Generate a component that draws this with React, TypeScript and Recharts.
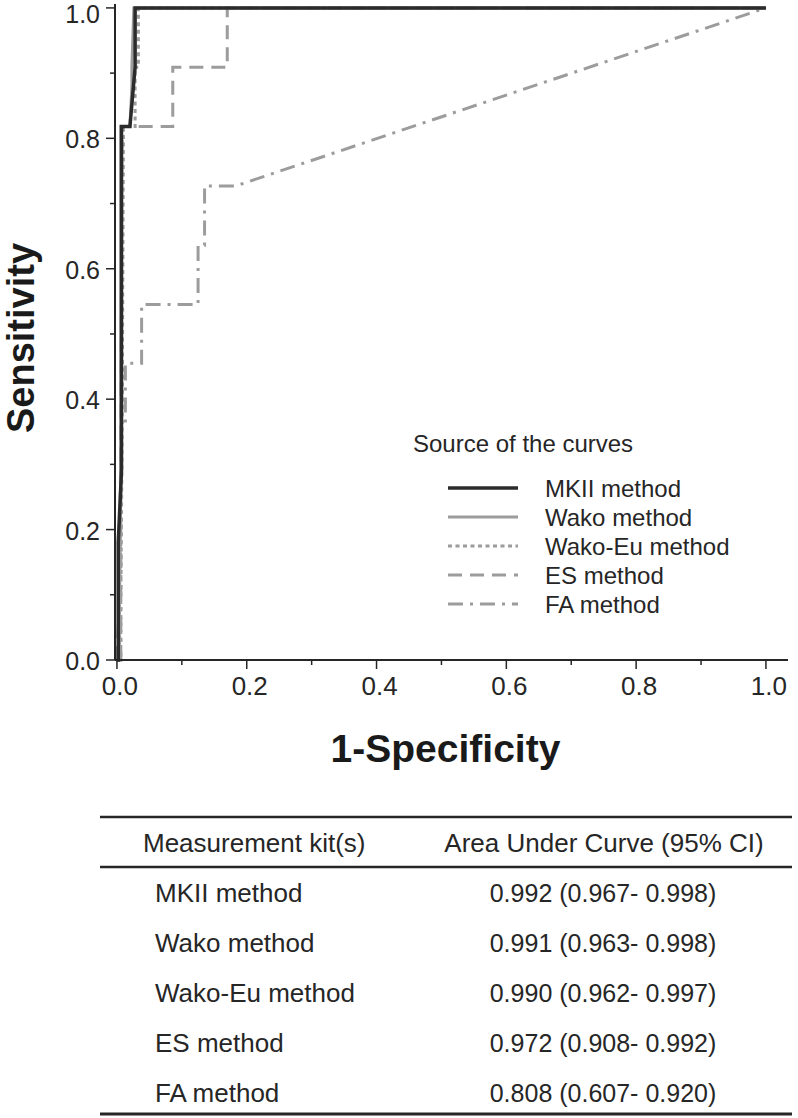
import React from "react";
import { LineChart, Line, XAxis, YAxis, Legend } from "recharts";

type Pt = { x: number; y: number };

// ROC points (x = 1-specificity, y = sensitivity)
const mkiiPoints: Pt[] = [
  { x: 0, y: 0 },
  { x: 0.002, y: 0 },
  { x: 0.002, y: 0.18 },
  { x: 0.007, y: 0.29 },
  { x: 0.007, y: 0.818 },
  { x: 0.02, y: 0.818 },
  { x: 0.028, y: 0.909 },
  { x: 0.028, y: 1 },
  { x: 1, y: 1 },
];

const wakoPoints: Pt[] = [
  { x: 0, y: 0 },
  { x: 0.004, y: 0 },
  { x: 0.004, y: 0.1 },
  { x: 0.006, y: 0.27 },
  { x: 0.006, y: 0.818 },
  { x: 0.02, y: 0.818 },
  { x: 0.023, y: 0.88 },
  { x: 0.023, y: 0.909 },
  { x: 0.026, y: 1 },
  { x: 1, y: 1 },
];

const wakoEuPoints: Pt[] = [
  { x: 0, y: 0 },
  { x: 0.006, y: 0 },
  { x: 0.006, y: 0.09 },
  { x: 0.008, y: 0.35 },
  { x: 0.01, y: 0.818 },
  { x: 0.028, y: 0.818 },
  { x: 0.028, y: 0.909 },
  { x: 0.033, y: 0.909 },
  { x: 0.033, y: 1 },
  { x: 1, y: 1 },
];

const esPoints: Pt[] = [
  { x: 0, y: 0 },
  { x: 0.004, y: 0.1 },
  { x: 0.006, y: 0.36 },
  { x: 0.008, y: 0.818 },
  { x: 0.086, y: 0.818 },
  { x: 0.086, y: 0.909 },
  { x: 0.17, y: 0.909 },
  { x: 0.17, y: 1 },
  { x: 1, y: 1 },
];

const faPoints: Pt[] = [
  { x: 0, y: 0 },
  { x: 0.006, y: 0 },
  { x: 0.006, y: 0.364 },
  { x: 0.013, y: 0.364 },
  { x: 0.013, y: 0.455 },
  { x: 0.038, y: 0.455 },
  { x: 0.038, y: 0.545 },
  { x: 0.125, y: 0.545 },
  { x: 0.125, y: 0.636 },
  { x: 0.135, y: 0.636 },
  { x: 0.135, y: 0.727 },
  { x: 0.183, y: 0.727 },
  { x: 1, y: 1 },
];

const axisTicks = [0, 0.1, 0.2, 0.3, 0.4, 0.5, 0.6, 0.7, 0.8, 0.9, 1.0];

const kits = ["MKII method", "Wako method", "Wako-Eu method", "ES method", "FA method"];
const aucText = [
  "0.992 (0.967- 0.998)",
  "0.991 (0.963- 0.998)",
  "0.990 (0.962- 0.997)",
  "0.972 (0.908- 0.992)",
  "0.808 (0.607- 0.920)",
];

const GRAY = "#9c9c9c";
const INK = "#262626";
const FONT = "'Liberation Sans', Arial, Helvetica, sans-serif";

const series = [
  { name: kits[0], data: mkiiPoints, color: "#2b2b2b", width: 3.5, dash: undefined as string | undefined },
  { name: kits[1], data: wakoPoints, color: GRAY, width: 3, dash: undefined },
  { name: kits[2], data: wakoEuPoints, color: GRAY, width: 3, dash: "4 3.5" },
  { name: kits[3], data: esPoints, color: GRAY, width: 3, dash: "14 8" },
  { name: kits[4], data: faPoints, color: GRAY, width: 3, dash: "15 7 3 7" },
];

const isMajor = (v: number) => Math.round(v * 10) % 2 === 0;

const XTick = (props: any) => {
  const { x, y, payload } = props;
  const major = isMajor(payload.value);
  return (
    <g>
      <line x1={x} x2={x} y1={y} y2={y + (major ? 9 : 5)} stroke={INK} strokeWidth={1.5} />
      {major && (
        <text x={x + 3} y={y + 35} textAnchor="middle" fontSize={26} fill={INK} fontFamily={FONT}>
          {payload.value.toFixed(1)}
        </text>
      )}
    </g>
  );
};

const YTick = (props: any) => {
  const { x, y, payload } = props;
  const major = isMajor(payload.value);
  // keep the top label inside the page
  const base = Math.max(y + 10, 23);
  return (
    <g>
      <line x1={x} x2={x - (major ? 9 : 5)} y1={y} y2={y} stroke={INK} strokeWidth={1.5} />
      {major && (
        <text x={x - 15} y={base} textAnchor="end" fontSize={25} fill={INK} fontFamily={FONT}>
          {payload.value.toFixed(1)}
        </text>
      )}
    </g>
  );
};

const CurveLegend = () => (
  <svg width={330} height={200} style={{ display: "block" }}>
    <text x={8} y={32} fontSize={24} fill={INK} fontFamily={FONT}>
      Source of the curves
    </text>
    {series.map((s, i) => {
      const cy = 68 + i * 29;
      return (
        <g key={s.name}>
          <line x1={43} x2={113} y1={cy} y2={cy} stroke={s.color} strokeWidth={s.width} strokeDasharray={s.dash} />
          <text x={140} y={cy + 8.5} fontSize={24} fill={INK} fontFamily={FONT}>
            {s.name}
          </text>
        </g>
      );
    })}
  </svg>
);

const AucTable = () => (
  <svg width={798} height={318} style={{ position: "absolute", left: 0, top: 800 }}>
    <line x1={100} x2={792} y1={17} y2={17} stroke={INK} strokeWidth={2.5} />
    <text x={143} y={52} fontSize={26} fill={INK} fontFamily={FONT}>
      Measurement kit(s)
    </text>
    <text x={604} y={52} textAnchor="middle" fontSize={26} fill={INK} fontFamily={FONT}>
      Area Under Curve (95% CI)
    </text>
    <line x1={100} x2={792} y1={67} y2={67} stroke={INK} strokeWidth={2.5} />
    {kits.map((k, i) => (
      <g key={k}>
        <text x={155} y={102 + i * 50} fontSize={26} fill={INK} fontFamily={FONT}>
          {k}
        </text>
        <text x={603} y={102 + i * 50} textAnchor="middle" fontSize={25} fill={INK} fontFamily={FONT}>
          {aucText[i]}
        </text>
      </g>
    ))}
    <line x1={100} x2={792} y1={314} y2={314} stroke={INK} strokeWidth={3} />
  </svg>
);

export default function App() {
  return (
    <div style={{ position: "absolute", left: 0, top: 0, width: 798, height: 1118, background: "#fff", fontFamily: FONT }}>
      <LineChart width={798} height={790} margin={{ top: 4, right: 10, bottom: 0, left: 8 }}>
        <XAxis
          type="number"
          dataKey="x"
          domain={[-0.003, 1.034]}
          ticks={axisTicks}
          interval={0}
          tickSize={0}
          tickMargin={0}
          tick={<XTick />}
          height={130}
          axisLine={{ stroke: INK, strokeWidth: 2 }}
          label={{
            content: (p: any) => (
              <text
                x={p.viewBox.x + p.viewBox.width / 2 - 6}
                y={762}
                textAnchor="middle"
                fontSize={39}
                fontWeight="bold"
                fill="#1a1a1a"
                fontFamily={FONT}
              >
                1-Specificity
              </text>
            ),
          }}
        />
        <YAxis
          type="number"
          dataKey="y"
          domain={[0, 1.006]}
          ticks={axisTicks}
          interval={0}
          tickSize={0}
          tickMargin={0}
          tick={<YTick />}
          width={107}
          axisLine={{ stroke: INK, strokeWidth: 2 }}
          label={{
            content: () => (
              <text
                x={34}
                y={338}
                transform="rotate(-90 34 338)"
                textAnchor="middle"
                fontSize={38}
                fontWeight="bold"
                fill="#1a1a1a"
                fontFamily={FONT}
              >
                Sensitivity
              </text>
            ),
          }}
        />
        <Legend
          content={<CurveLegend />}
          layout="horizontal"
          verticalAlign="middle"
          align="center"
          wrapperStyle={{ left: 405, top: 420, width: 330, height: 200 }}
        />
        {[...series].reverse().map((s) => (
          <Line
            key={s.name}
            name={s.name}
            data={s.data}
            dataKey="y"
            type="linear"
            stroke={s.color}
            strokeWidth={s.width}
            strokeDasharray={s.dash}
            dot={false}
            activeDot={false}
            isAnimationActive={false}
          />
        ))}
      </LineChart>
      <AucTable />
    </div>
  );
}
